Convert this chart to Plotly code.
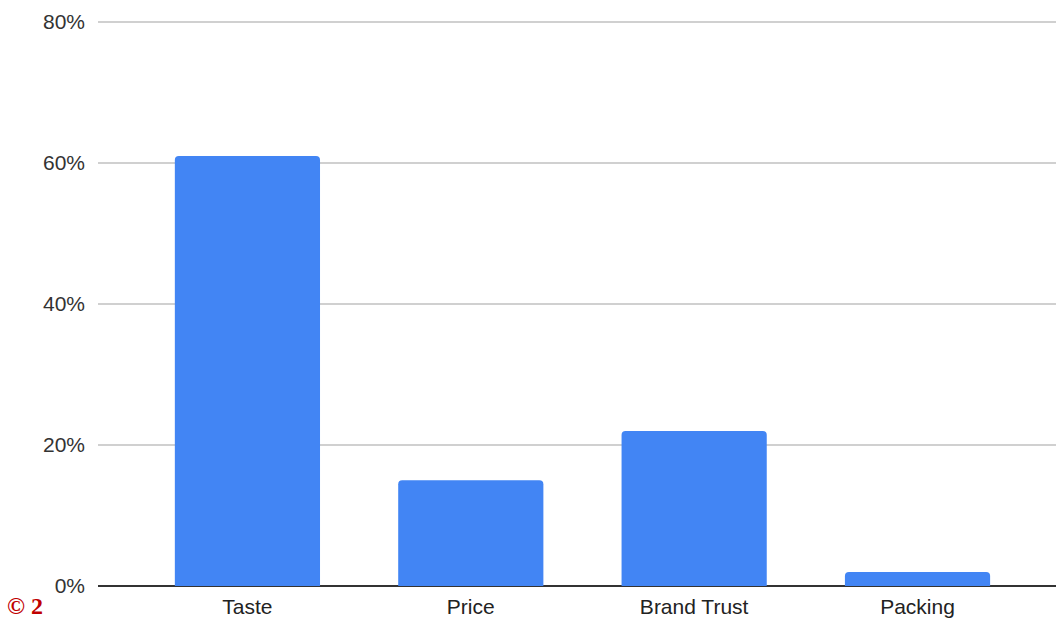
import plotly.graph_objects as go

categories = ["Taste", "Price", "Brand Trust", "Packing"]
values = [61, 15, 22, 2]
y_ticks = [0, 20, 40, 60, 80]
y_tick_labels = ["0%", "20%", "40%", "60%", "80%"]

fig = go.Figure(go.Bar(
    x=categories, y=values,
    marker=dict(color="#4285F4", cornerradius=4, line=dict(width=0)),
    width=0.65,
))

fig.update_layout(
    width=1056, height=618,
    margin=dict(l=98, r=0, t=20, b=32),
    paper_bgcolor="white", plot_bgcolor="white",
    font=dict(family="Liberation Sans, Arial, sans-serif", size=21, color="#222222"),
    showlegend=False,
    xaxis=dict(
        type="category", range=[-0.669, 3.62],
        showgrid=False, ticks="", tickfont=dict(size=21, color="#222222"),
        showline=False, ticklabelstandoff=6,
    ),
    yaxis=dict(
        range=[0, 80.3], tickvals=y_ticks, ticktext=y_tick_labels,
        showgrid=True, gridcolor="#d0d0d0", gridwidth=1.5,
        zeroline=True, zerolinecolor="#333333", zerolinewidth=1.5,
        ticks="", ticklabelstandoff=12, tickfont=dict(size=21, color="#333333"),
    ),
    annotations=[dict(
        text="<b>© 2</b>", xref="paper", yref="paper",
        x=-98/958, y=-32/566, xanchor="left", yanchor="bottom",
        xshift=5, yshift=-3, showarrow=False,
        font=dict(family="Liberation Serif, Times New Roman, serif", size=24, color="#C00000"),
    )],
)

fig.write_html("out.html")
